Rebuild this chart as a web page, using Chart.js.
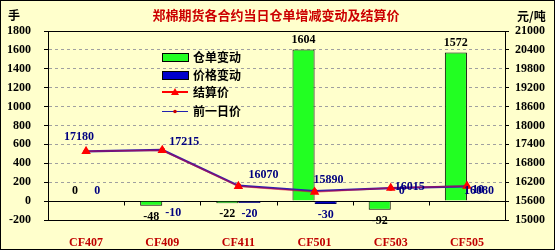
<!DOCTYPE html>
<html>
<head>
<meta charset="utf-8">
<script src="https://cdn.jsdelivr.net/npm/chart.js@4/dist/chart.umd.min.js"></script>
<style>
  html, body { margin: 0; padding: 0; background: #FFFFCC; }
  #wrap { width: 555px; height: 250px; position: relative; }
</style>
</head>
<body>
<div id="wrap"><canvas id="c" width="555" height="250"></canvas></div>
<script>
const chartTitle = '郑棉期货各合约当日仓单增减变动及结算价';
const leftUnit = '手';
const rightUnit = '元/吨';
const categories = ['CF407', 'CF409', 'CF411', 'CF501', 'CF503', 'CF505'];
const seriesNames = ['仓单变动', '价格变动', '结算价', '前一日价'];
const warrantChange = [0, -48, -22, 1604, -92, 1572];
const priceChange = [0, -10, -20, -30, 0, 10];
const settlePrice = [17180, 17215, 16070, 15890, 16015, 16080];
const prevPrice = [17180, 17225, 16090, 15920, 16015, 16070];
const leftAxis = { min: -200, max: 1800, step: 200 };
const rightAxis = { min: 15000, max: 21000, step: 600 };

const BG = '#FFFFCC';
const NUM_FONT = 'bold 12px "Liberation Serif"';
const CJK = '"Noto Sans CJK SC"';

const decor = {
  id: 'decor',
  beforeDraw(chart) {
    const ctx = chart.ctx;
    ctx.save();
    ctx.fillStyle = BG;
    ctx.fillRect(0, 0, chart.width, chart.height);
    ctx.restore();
  },
  afterDraw(chart, args, opts) {
    const ctx = chart.ctx;
    const a = chart.chartArea;
    ctx.save();
    ctx.strokeStyle = '#000';
    ctx.lineWidth = 1;
    ctx.strokeRect(Math.round(a.left) + 0.5, Math.round(a.top) + 0.5, Math.round(a.right - a.left), Math.round(a.bottom - a.top));
    ctx.strokeRect(0.5, 0.5, chart.width - 1, chart.height - 1);
    const xs = chart.scales.x, ys = chart.scales.y;
    const y0 = Math.round(ys.getPixelForValue(0)) + 0.5;
    for (let i = 1; i < categories.length; i++) {
      const xb = Math.round((xs.getPixelForValue(i - 1) + xs.getPixelForValue(i)) / 2) + 0.5;
      ctx.beginPath(); ctx.moveTo(xb, y0); ctx.lineTo(xb, y0 + 4); ctx.stroke();
    }
    ctx.textBaseline = 'middle';
    ctx.textAlign = 'center';
    ctx.fillStyle = '#CC0000';
    ctx.font = 'bold 13px ' + CJK;
    ctx.fillText(chartTitle, 276, 15);
    ctx.fillStyle = '#000';
    ctx.font = 'bold 12px ' + CJK;
    ctx.textAlign = 'left';
    ctx.fillText(leftUnit, 8, 15);
    ctx.fillText(rightUnit, 517, 16);
    // legend
    const lx = 162, tx = 193;
    const rows = [57, 75, 92, 111];
    const ds = chart.data.datasets;
    [0, 1].forEach(k => {
      ctx.fillStyle = ds[k].backgroundColor;
      ctx.fillRect(lx, rows[k] - 4, 26, 8);
      ctx.strokeStyle = '#000';
      ctx.strokeRect(lx + 0.5, rows[k] - 4 + 0.5, 26, 8);
    });
    ctx.strokeStyle = '#FF0000'; ctx.lineWidth = 2;
    ctx.beginPath(); ctx.moveTo(lx, rows[2]); ctx.lineTo(lx + 26, rows[2]); ctx.stroke();
    ctx.fillStyle = '#FF0000';
    ctx.beginPath(); ctx.moveTo(lx + 13, rows[2] - 4); ctx.lineTo(lx + 17, rows[2] + 3); ctx.lineTo(lx + 9, rows[2] + 3); ctx.closePath(); ctx.fill();
    ctx.strokeStyle = '#2020B0'; ctx.lineWidth = 1;
    ctx.beginPath(); ctx.moveTo(lx, rows[3] + 0.5); ctx.lineTo(lx + 26, rows[3] + 0.5); ctx.stroke();
    ctx.fillStyle = '#CC0000';
    ctx.beginPath(); ctx.arc(lx + 13, rows[3] + 0.5, 1.8, 0, Math.PI * 2); ctx.fill();
    ctx.fillStyle = '#000';
    ctx.font = 'bold 12px ' + CJK;
    ctx.textAlign = 'left';
    seriesNames.forEach((n, k) => ctx.fillText(n, tx, rows[k]));
    ctx.restore();
  }
};

const valueLabels = {
  id: 'valueLabels',
  afterDatasetsDraw(chart, args, opts) {
    const ctx = chart.ctx;
    ctx.save();
    ctx.font = NUM_FONT;
    ctx.textAlign = 'center';
    ctx.textBaseline = 'middle';
    [0, 1].forEach(di => {
      const meta = chart.getDatasetMeta(di);
      const data = chart.data.datasets[di].data;
      meta.data.forEach((el, i) => {
        const v = data[i];
        ctx.fillStyle = di === 0 ? '#000' : '#000080';
        const y = v >= 0 ? Math.min(el.y, el.base) - 10 : Math.max(el.y, el.base) + 11;
        ctx.fillText(String(v), el.x, y);
      });
    });
    const lm = chart.getDatasetMeta(2);
    const ld = chart.data.datasets[2].data;
    lm.data.forEach((el, i) => {
      const o = opts.offsets[i];
      ctx.fillStyle = '#000080';
      ctx.fillText(String(ld[i]), el.x + o[0], el.y + o[1]);
    });
    ctx.restore();
  }
};

const plainTick = v => String(v);

new Chart(document.getElementById('c'), {
  type: 'bar',
  data: {
    labels: categories,
    datasets: [
      { type: 'bar', label: seriesNames[0], data: warrantChange, yAxisID: 'y',
        backgroundColor: '#22FF22', borderColor: '#000', borderWidth: 1,
        categoryPercentage: 0.58, barPercentage: 1, order: 10 },
      { type: 'bar', label: seriesNames[1], data: priceChange, yAxisID: 'y',
        backgroundColor: '#0000CC', borderColor: '#000060', borderWidth: 1,
        categoryPercentage: 0.58, barPercentage: 1, order: 10 },
      { type: 'line', label: seriesNames[2], data: settlePrice, yAxisID: 'y1',
        borderColor: 'rgba(230,0,40,0.5)', borderWidth: 1.5, pointStyle: 'triangle', pointRadius: 4,
        pointBackgroundColor: '#FF0000', pointBorderColor: '#FF0000', tension: 0, order: 1 },
      { type: 'line', label: seriesNames[3], data: prevPrice, yAxisID: 'y1',
        borderColor: '#3020B0', borderWidth: 2.2, pointStyle: 'circle', pointRadius: 1.5,
        pointBackgroundColor: '#CC0000', pointBorderColor: '#CC0000', tension: 0, order: 2 }
    ]
  },
  options: {
    responsive: false,
    animation: false,
    devicePixelRatio: 1,
    layout: { padding: { top: 31, left: 0, right: 0, bottom: 0 } },
    plugins: {
      legend: { display: false },
      title: { display: false },
      tooltip: { enabled: false },
      valueLabels: { offsets: [[-7, -14], [22, -8], [25, -11], [14, -12], [19, -1], [12, 5]] }
    },
    scales: {
      x: {
        offset: true,
        grid: { display: false },
        border: { display: true, color: '#000' },
        ticks: { color: '#C00000', font: { family: 'Liberation Serif', size: 12, weight: 'bold' }, padding: 8, maxRotation: 0 },
        afterFit: s => { s.height = 30; }
      },
      y: {
        position: 'left',
        min: leftAxis.min, max: leftAxis.max,
        ticks: { stepSize: leftAxis.step, color: '#000', padding: 13, callback: plainTick,
          font: { family: 'Liberation Serif', size: 12, weight: 'bold' } },
        grid: {
          color: c => (c.tick && c.tick.value === 0) ? '#000' : '#A0A0A0',
          lineWidth: 1, drawTicks: true, tickLength: 4, tickColor: '#000', tickBorderDash: []
        },
        border: { display: true, color: '#000', dash: c => (c.tick && c.tick.value === 0) ? [] : [3, 3] },
        afterFit: s => { s.width = 48; }
      },
      y1: {
        position: 'right',
        min: rightAxis.min, max: rightAxis.max,
        ticks: { stepSize: rightAxis.step, color: '#000', padding: 6, callback: plainTick,
          font: { family: 'Liberation Serif', size: 12, weight: 'bold' } },
        grid: { drawOnChartArea: false, drawTicks: true, tickLength: 4, tickColor: '#000' },
        border: { display: true, color: '#000' },
        afterFit: s => { s.width = 50; }
      }
    }
  },
  plugins: [decor, valueLabels]
});
</script>
</body>
</html>
